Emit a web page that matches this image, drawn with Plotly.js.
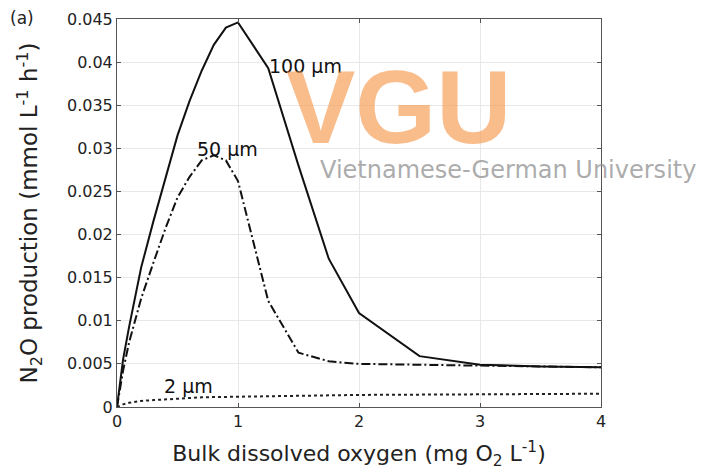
<!DOCTYPE html>
<html>
<head>
<meta charset="utf-8">
<script src="https://cdn.plot.ly/plotly-3.0.1.min.js"></script>
<style>html,body{margin:0;padding:0;background:#fff;}#chart{width:702px;height:471px;}</style>
</head>
<body>
<div id="chart"></div>
<script>
// Bulk dissolved oxygen (mg O2 L-1)
const oxygen = [0, 0.05, 0.1, 0.2, 0.3, 0.4, 0.5, 0.6, 0.7, 0.8, 0.9, 1.0, 1.25, 1.5, 1.75, 2.0, 2.5, 3.0, 3.5, 4.0];
// N2O production (mmol L-1 h-1) for each aggregate size
const n2o100um = [0, 0.0055, 0.0093, 0.0162, 0.0215, 0.0265, 0.0315, 0.0355, 0.039, 0.042, 0.0440, 0.0446, 0.0393, 0.0280, 0.0172, 0.0109, 0.0059, 0.0049, 0.0047, 0.0046];
const n2o50um  = [0, 0.0042, 0.0075, 0.0126, 0.0167, 0.0207, 0.0243, 0.0267, 0.0286, 0.0292, 0.0286, 0.0262, 0.0123, 0.0063, 0.0053, 0.0050, 0.0049, 0.0048, 0.0047, 0.0046];
const n2o2um   = [0, 0.0003, 0.0005, 0.0007, 0.0008, 0.0009, 0.0010, 0.0011, 0.00112, 0.00115, 0.00118, 0.0012, 0.00125, 0.0013, 0.00135, 0.0014, 0.00145, 0.0015, 0.00152, 0.00154];
const seriesNames = ['100 µm', '50 µm', '2 µm'];
const labelX = [1.56, 0.91, 0.595];
const labelY = [0.0396, 0.0299, 0.0024];
const xTicks = [0, 1, 2, 3, 4];

const FONT = 'DejaVu Sans, sans-serif';
const traces = [
  {x: oxygen, y: n2o100um, name: seriesNames[0], mode: 'lines', line: {color: '#111', width: 2, dash: 'solid'}},
  {x: oxygen, y: n2o50um, name: seriesNames[1], mode: 'lines', line: {color: '#111', width: 2, dash: '9px,3px,2px,3px'}},
  {x: oxygen, y: n2o2um, name: seriesNames[2], mode: 'lines', line: {color: '#222', width: 2, dash: 'dot'}}
];

const annotations = seriesNames.map((s, i) => ({
  x: labelX[i], y: labelY[i], xref: 'x', yref: 'y', text: s, showarrow: false,
  xanchor: 'center', yanchor: 'middle',
  font: {family: FONT, size: 19, color: '#111'}
}));
annotations.push({x: -0.196, y: 1.003, xref: 'paper', yref: 'paper', text: '(a)', showarrow: false,
  xanchor: 'center', yanchor: 'middle',
  font: {family: FONT, size: 17, color: '#222'}});
// watermark
annotations.push({x: 0.5816, y: 0.7735, xref: 'paper', yref: 'paper', text: '<b>VGU</b>', showarrow: false,
  xanchor: 'center', yanchor: 'middle',
  font: {family: 'Liberation Sans, Arial, sans-serif', size: 104, color: 'rgba(246,160,90,0.7)'}});
annotations.push({x: 1.2004, y: 0.611, xref: 'paper', yref: 'paper', text: 'Vietnamese-German University', showarrow: false,
  xanchor: 'right', yanchor: 'middle',
  font: {family: 'DejaVu Sans, sans-serif', size: 24, color: 'rgba(150,150,150,0.8)'}});

const layout = {
  width: 702, height: 471,
  margin: {l: 117, r: 101, t: 19, b: 64},
  paper_bgcolor: '#fff', plot_bgcolor: '#fff',
  showlegend: false,
  font: {family: FONT, color: '#222'},
  xaxis: {
    range: [0, 4], tickvals: xTicks, ticktext: xTicks.map(String),
    showgrid: true, gridcolor: '#e8e8e8', gridwidth: 1,
    zeroline: false, showline: true, linecolor: '#555', linewidth: 1, mirror: 'ticks',
    ticks: 'inside', ticklen: 4, tickcolor: '#555',
    tickfont: {family: FONT, size: 16, color: '#222'},
    title: {text: 'Bulk dissolved oxygen (mg O<sub>2</sub> L<sup>-1</sup>)', standoff: 15, font: {family: FONT, size: 22, color: '#222'}}
  },
  yaxis: {
    range: [0, 0.045], dtick: 0.005, tick0: 0,
    showgrid: true, gridcolor: '#e8e8e8', gridwidth: 1,
    zeroline: false, showline: true, linecolor: '#555', linewidth: 1, mirror: 'ticks',
    ticks: 'inside', ticklen: 4, tickcolor: '#555',
    tickfont: {family: FONT, size: 16, color: '#222'},
    title: {text: 'N<sub>2</sub>O production (mmol L<sup>-1</sup> h<sup>-1</sup>)', standoff: 22, font: {family: FONT, size: 23, color: '#222'}}
  },
  annotations: annotations
};

Plotly.newPlot('chart', traces, layout, {displayModeBar: false, staticPlot: true});
</script>
</body>
</html>
